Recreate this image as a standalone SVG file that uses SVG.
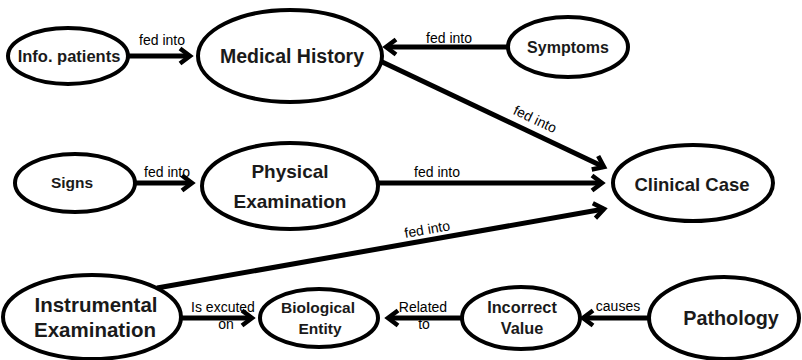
<svg xmlns="http://www.w3.org/2000/svg" width="802" height="360" viewBox="0 0 802 360">
<style>
  .node ellipse { fill: #fff; stroke: #000; stroke-width: 4; }
  .node text { font-family: "Liberation Sans", Arial, sans-serif; font-weight: bold; text-anchor: middle; fill: #1a1a1a; }
  .edge line { stroke: #000; stroke-width: 5; marker-end: url(#arrow); }
  .lbl { font-family: "Liberation Sans", Arial, sans-serif; font-size: 14px; text-anchor: middle; fill: #000; }
</style>
<defs>
  <marker id="arrow" markerUnits="userSpaceOnUse" viewBox="0 0 20 20" markerWidth="20" markerHeight="20" refX="14" refY="10" orient="auto">
    <path d="M 4 2.5 L 14 10 L 4 17.5" fill="none" stroke="#000" stroke-width="4.5"/>
  </marker>
</defs>
<rect width="802" height="360" fill="#fff"/>
<g id="connectors" class="edge">
  <line x1="128" y1="56" x2="190" y2="56"/>
  <line x1="509" y1="47" x2="386" y2="47"/>
  <line x1="378" y1="60" x2="604" y2="167"/>
  <line x1="135" y1="183" x2="192" y2="183"/>
  <line x1="378" y1="183" x2="602" y2="183"/>
  <line x1="157" y1="288" x2="604" y2="209"/>
  <line x1="182" y1="318" x2="252" y2="318"/>
  <line x1="462" y1="318" x2="388" y2="318"/>
  <line x1="648" y1="318" x2="583" y2="318"/>
  <text class="lbl" x="162" y="45">fed into</text>
  <text class="lbl" x="449" y="43">fed into</text>
  <text class="lbl" transform="translate(533,123.5) rotate(25.4)">fed into</text>
  <text class="lbl" x="167" y="177">fed into</text>
  <text class="lbl" x="437" y="177">fed into</text>
  <text class="lbl" transform="translate(428,234) rotate(-9.8)">fed into</text>
  <text class="lbl" x="223" y="312">Is excuted</text>
  <text class="lbl" x="226" y="329">on</text>
  <text class="lbl" x="423" y="312">Related</text>
  <text class="lbl" x="424" y="329">to</text>
  <text class="lbl" x="618" y="311">causes</text>
</g>
<g id="info-patients" class="node">
  <ellipse cx="68" cy="56" rx="60" ry="28"/>
  <text x="69" y="62" font-size="16.5">Info. patients</text>
</g>
<g id="medical-history" class="node">
  <ellipse cx="290" cy="56" rx="92" ry="46"/>
  <text x="292" y="63" font-size="19.5">Medical History</text>
</g>
<g id="symptoms" class="node">
  <ellipse cx="568" cy="47" rx="60" ry="30"/>
  <text x="568" y="53" font-size="16">Symptoms</text>
</g>
<g id="clinical-case" class="node">
  <ellipse cx="693" cy="183" rx="80" ry="38"/>
  <text x="692" y="191" font-size="18.5">Clinical Case</text>
</g>
<g id="signs" class="node">
  <ellipse cx="75" cy="183" rx="60" ry="29"/>
  <text x="72" y="188" font-size="15.5">Signs</text>
</g>
<g id="physical-examination" class="node">
  <ellipse cx="290" cy="186" rx="88" ry="43"/>
  <text x="290" y="178" font-size="19">Physical</text>
  <text x="290" y="208" font-size="19">Examination</text>
</g>
<g id="instrumental-examination" class="node">
  <ellipse cx="92" cy="317" rx="89" ry="42"/>
  <text x="96" y="312" font-size="20.5">Instrumental</text>
  <text x="95" y="337" font-size="20.5">Examination</text>
</g>
<g id="biological-entity" class="node">
  <ellipse cx="319" cy="318" rx="59" ry="29"/>
  <text x="318" y="313" font-size="15.5">Biological</text>
  <text x="320" y="334" font-size="15.5">Entity</text>
</g>
<g id="incorrect-value" class="node">
  <ellipse cx="521" cy="318" rx="59" ry="31"/>
  <text x="522" y="313" font-size="16.3">Incorrect</text>
  <text x="522" y="334" font-size="16.3">Value</text>
</g>
<g id="pathology" class="node">
  <ellipse cx="724" cy="318" rx="75" ry="41"/>
  <text x="731" y="325" font-size="19.8">Pathology</text>
</g>
</svg>
